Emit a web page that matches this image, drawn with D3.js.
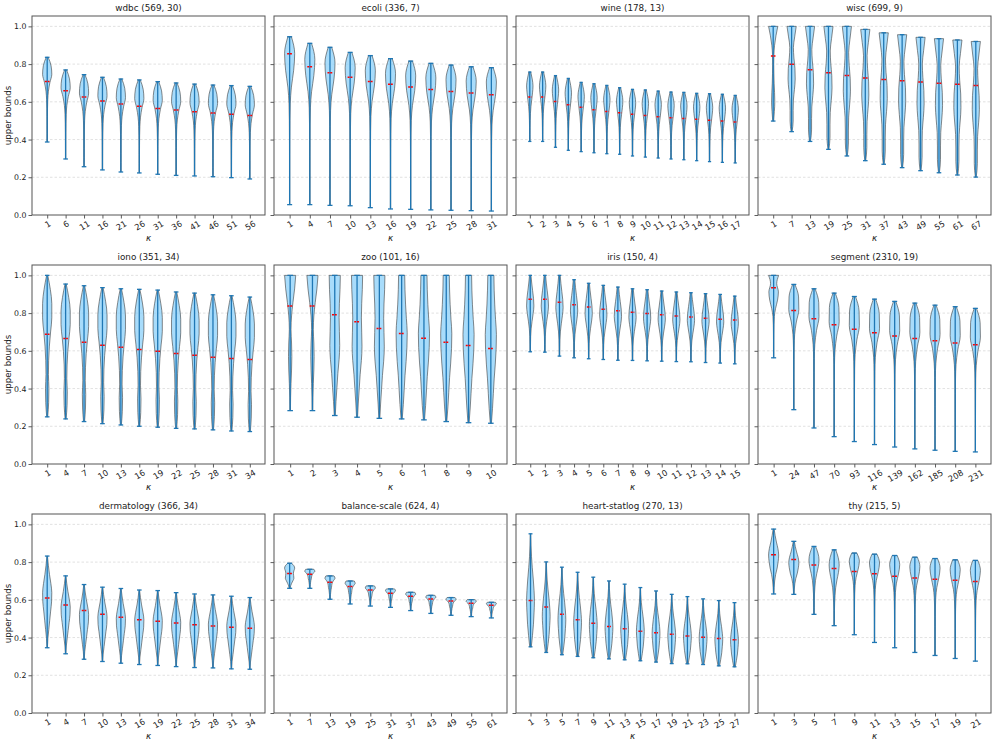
<!DOCTYPE html>
<html><head><meta charset="utf-8">
<script src="https://cdn.jsdelivr.net/npm/d3@7"></script>
<style>body{margin:0;background:#fff}svg{display:block;font-family:"DejaVu Sans",sans-serif}</style>
</head><body><svg id="c" width="997" height="746"></svg>
<script>
// ---------- data ----------
const titles = ["wdbc (569, 30)","ecoli (336, 7)","wine (178, 13)","wisc (699, 9)",
  "iono (351, 34)","zoo (101, 16)","iris (150, 4)","segment (2310, 19)",
  "dermatology (366, 34)","balance-scale (624, 4)","heart-statlog (270, 13)","thy (215, 5)"];

const kappas = [
  [1,6,11,16,21,26,31,36,41,46,51,56],
  [1,4,7,10,13,16,19,22,25,28,31],
  [1,2,3,4,5,6,7,8,9,10,11,12,13,14,15,16,17],
  [1,7,13,19,25,31,37,43,49,55,61,67],
  [1,4,7,10,13,16,19,22,25,28,31,34],
  [1,2,3,4,5,6,7,8,9,10],
  [1,2,3,4,5,6,7,8,9,10,11,12,13,14,15],
  [1,24,47,70,93,116,139,162,185,208,231],
  [1,4,7,10,13,16,19,22,25,28,31,34],
  [1,7,13,19,25,31,37,43,49,55,61],
  [1,3,5,7,9,11,13,15,17,19,21,23,25,27],
  [1,3,5,7,9,11,13,15,17,19,21]
];

const maxima = [
  [0.836,0.769,0.744,0.730,0.721,0.716,0.707,0.700,0.694,0.689,0.686,0.682],
  [0.945,0.910,0.889,0.862,0.845,0.829,0.816,0.804,0.795,0.786,0.781],
  [0.758,0.758,0.739,0.724,0.703,0.696,0.687,0.675,0.666,0.663,0.657,0.652,0.650,0.645,0.643,0.640,0.634],
  [1.0,1.0,1.0,1.0,1.0,0.984,0.966,0.956,0.942,0.935,0.928,0.920],
  [1.0,0.954,0.945,0.935,0.929,0.926,0.922,0.912,0.906,0.897,0.892,0.885],
  [1.0,1.0,1.0,1.0,1.0,1.0,1.0,1.0,1.0,1.0],
  [1.0,1.0,1.0,0.977,0.958,0.947,0.938,0.929,0.924,0.917,0.912,0.908,0.903,0.899,0.890],
  [1.0,0.952,0.929,0.906,0.888,0.874,0.862,0.853,0.842,0.834,0.825],
  [0.832,0.727,0.681,0.667,0.660,0.652,0.649,0.638,0.631,0.626,0.619,0.612],
  [0.794,0.762,0.727,0.700,0.674,0.658,0.640,0.624,0.612,0.601,0.587],
  [0.950,0.801,0.773,0.746,0.720,0.700,0.683,0.665,0.647,0.629,0.617,0.605,0.596,0.585],
  [0.975,0.910,0.883,0.865,0.848,0.842,0.835,0.826,0.819,0.812,0.809]
];

const minima = [
  [0.387,0.297,0.256,0.239,0.228,0.223,0.216,0.210,0.207,0.203,0.198,0.191],
  [0.055,0.055,0.051,0.049,0.039,0.032,0.030,0.027,0.025,0.023,0.021],
  [0.390,0.390,0.359,0.343,0.336,0.330,0.325,0.322,0.313,0.307,0.302,0.297,0.293,0.288,0.283,0.279,0.276],
  [0.498,0.442,0.390,0.348,0.313,0.288,0.269,0.251,0.235,0.224,0.212,0.201],
  [0.250,0.239,0.225,0.214,0.207,0.200,0.195,0.189,0.186,0.181,0.175,0.172],
  [0.283,0.283,0.257,0.248,0.242,0.239,0.234,0.225,0.219,0.216],
  [0.595,0.593,0.572,0.563,0.558,0.554,0.550,0.549,0.547,0.545,0.543,0.542,0.538,0.535,0.531],
  [0.563,0.288,0.191,0.145,0.119,0.103,0.090,0.080,0.073,0.067,0.064],
  [0.346,0.314,0.285,0.273,0.264,0.257,0.252,0.246,0.241,0.239,0.234,0.232],
  [0.661,0.661,0.603,0.578,0.567,0.560,0.543,0.528,0.518,0.511,0.504],
  [0.351,0.321,0.309,0.300,0.293,0.287,0.282,0.277,0.270,0.262,0.261,0.257,0.250,0.245],
  [0.631,0.629,0.523,0.463,0.415,0.374,0.346,0.321,0.305,0.289,0.275]
];

const means = [
  [0.708,0.659,0.625,0.604,0.588,0.576,0.565,0.557,0.548,0.541,0.534,0.528],
  [0.855,0.786,0.754,0.730,0.708,0.693,0.678,0.666,0.655,0.647,0.638],
  [0.625,0.625,0.602,0.585,0.571,0.558,0.549,0.542,0.534,0.528,0.521,0.516,0.512,0.507,0.502,0.498,0.493],
  [0.843,0.799,0.770,0.754,0.740,0.726,0.719,0.712,0.705,0.698,0.693,0.687],
  [0.688,0.665,0.646,0.630,0.619,0.607,0.598,0.586,0.577,0.566,0.559,0.554],
  [0.837,0.837,0.791,0.754,0.719,0.692,0.667,0.646,0.628,0.612],
  [0.874,0.874,0.858,0.844,0.832,0.821,0.812,0.804,0.798,0.791,0.784,0.779,0.773,0.768,0.763],
  [0.935,0.814,0.770,0.738,0.715,0.696,0.678,0.665,0.653,0.642,0.632],
  [0.610,0.573,0.543,0.523,0.507,0.495,0.486,0.477,0.468,0.461,0.454,0.449],
  [0.739,0.736,0.693,0.670,0.652,0.635,0.619,0.605,0.594,0.582,0.571],
  [0.596,0.562,0.523,0.495,0.476,0.459,0.447,0.434,0.426,0.417,0.408,0.401,0.395,0.388],
  [0.839,0.814,0.784,0.766,0.750,0.738,0.725,0.716,0.709,0.704,0.697]
];

// relative violin widths from the minimum (first) to the maximum (last) of each violin
const shapes = [
  [[0.03,0.035,0.04,0.05,0.07,0.12,0.25,0.55,0.95,0.8,0.2]],
  [[0.03,0.03,0.03,0.03,0.04,0.06,0.12,0.35,0.8,1.0,0.35]],
  [[0.05,0.06,0.08,0.12,0.2,0.35,0.6,0.85,1.0,0.75,0.3]],
  [[0.1,0.25,0.35,0.3,0.2,0.15,0.12,0.15,0.3,0.6,1.0],
   [0.08,0.3,0.3,0.35,0.55,0.7,0.65,0.45,0.35,0.6,0.9]],
  [[0.1,0.3,0.35,0.25,0.3,0.45,0.7,0.95,0.95,0.65,0.12]],
  [[0.05,0.08,0.15,0.25,0.3,0.25,0.15,0.25,0.5,0.8,1.0],
   [0.08,0.2,0.35,0.5,0.7,0.8,0.75,0.7,0.75,0.85,0.9],
   [0.1,0.3,0.45,0.6,0.8,0.95,1.0,0.85,0.7,0.6,0.55]],
  [[0.05,0.08,0.12,0.25,0.5,0.8,1.0,0.9,0.65,0.4,0.2]],
  [[0.03,0.03,0.03,0.04,0.06,0.12,0.35,0.7,0.85,0.55,0.9],
   [0.02,0.02,0.02,0.03,0.04,0.06,0.15,0.45,0.9,0.85,0.2]],
  [[0.05,0.15,0.35,0.55,0.75,0.95,1.0,0.8,0.5,0.25,0.06]],
  [[0.1,0.2,0.4,0.65,0.85,0.8,0.75,0.85,1.0,0.85,0.35],
   [0.06,0.08,0.1,0.15,0.2,0.3,0.35,0.45,0.7,1.0,0.8]],
  [[0.2,0.5,0.75,0.9,1.0,0.9,0.7,0.45,0.25,0.12,0.05]],
  [[0.05,0.1,0.2,0.4,0.7,0.9,1.0,0.85,0.55,0.3,0.1],
   [0.03,0.04,0.06,0.1,0.18,0.3,0.55,0.85,1.0,0.8,0.3],
   [0.03,0.03,0.03,0.04,0.05,0.08,0.15,0.35,0.75,1.0,0.5]]
];
const shapeIndex = [
  null,null,null,
  [0,1,1,1,1,1,1,1,1,1,1,1],
  null,
  [0,0,1,1,1,2,2,2,2,2],
  null,
  [0,1,1,1,1,1,1,1,1,1,1],
  null,
  [0,1,1,1,1,1,1,1,1,1,1],
  null,
  [0,0,1,1,2,2,2,2,2,2,2]
];
const yTicks = [0.0,0.2,0.4,0.6,0.8,1.0];

// ---------- layout ----------
const svg = d3.select("#c");
const colX = [32,274,516,758], rowY = [16,265,514], pw = 233, ph = 199;

titles.forEach((title,p)=>{
  const col = p%4, row = Math.floor(p/4);
  const x0 = colX[col], y0 = rowY[row];
  const n = kappas[p].length;
  const m = 0.05*(n-0.5);
  const x = d3.scaleLinear().domain([0.75-m, n+0.25+m]).range([x0, x0+pw]);
  const y = d3.scaleLinear().domain([0,1.055]).range([y0+ph, y0]);
  const g = svg.append("g");

  // grid
  g.selectAll("line.grid").data(yTicks.slice(1)).join("line")
    .attr("x1",x0).attr("x2",x0+pw).attr("y1",d=>y(d)).attr("y2",d=>y(d))
    .attr("stroke","#cccccc").attr("stroke-width",0.6).attr("stroke-dasharray","2.5,2");

  // y axis
  const ya = g.append("g").attr("transform",`translate(${x0},0)`)
    .call(d3.axisLeft(y).tickValues(yTicks).tickSize(3.5).tickPadding(2)
      .tickFormat(col===0 ? d3.format(".1f") : ()=>""));
  ya.select(".domain").remove();
  ya.selectAll("line").attr("stroke","#333").attr("stroke-width",0.8);
  ya.selectAll("text").attr("font-size",7.8).attr("fill","#222").attr("font-family","DejaVu Sans");

  // x axis
  const xa = g.append("g").attr("transform",`translate(0,${y0+ph})`)
    .call(d3.axisBottom(x).tickValues(d3.range(1,n+1)).tickSize(3.5)
      .tickFormat(i=>kappas[p][i-1]));
  xa.select(".domain").remove();
  xa.selectAll("line").attr("stroke","#333").attr("stroke-width",0.8);
  xa.selectAll("text").attr("font-size",8.3).attr("fill","#222").attr("font-family","DejaVu Sans")
    .attr("dy",null).attr("text-anchor","middle").attr("dominant-baseline","central")
    .each(function(){
      const w = this.getComputedTextLength();
      const bh = w*Math.sin(Math.PI/6) + 8.3*Math.cos(Math.PI/6);
      const cy = 4.2 + bh/2;
      d3.select(this).attr("y",0).attr("transform",`translate(0,${cy}) rotate(-30)`);
    });

  // violins
  const area = d3.area()
    .y(d=>y(d.v)).x0(d=>x(d.pos-0.25*d.w)).x1(d=>x(d.pos+0.25*d.w))
    .curve(d3.curveMonotoneY);
  kappas[p].forEach((k,j)=>{
    const pos = j+1;
    const prof = shapes[p][shapeIndex[p] ? shapeIndex[p][j] : 0];
    const mx = d3.max(prof);
    const lo = minima[p][j], hi = maxima[p][j];
    const pts = prof.map((w,i)=>({v: lo + (hi-lo)*i/(prof.length-1), w: w/mx, pos}));
    g.append("path").attr("d",area(pts))
      .attr("fill","#87cefa").attr("fill-opacity",0.72)
      .attr("stroke","#3c3c3c").attr("stroke-opacity",0.75).attr("stroke-width",0.8);
  });
  kappas[p].forEach((k,j)=>{
    const pos = j+1;
    const lo = minima[p][j], hi = maxima[p][j];
    g.append("line").attr("x1",x(pos)).attr("x2",x(pos)).attr("y1",y(lo)).attr("y2",y(hi))
      .attr("stroke","#1f77b4").attr("stroke-width",1.3);
    [lo,hi].forEach(v=>{
      g.append("line").attr("x1",x(pos-0.125)).attr("x2",x(pos+0.125)).attr("y1",y(v)).attr("y2",y(v))
        .attr("stroke","#1f77b4").attr("stroke-width",1.3);
    });
    g.append("line").attr("x1",x(pos-0.125)).attr("x2",x(pos+0.125))
      .attr("y1",y(means[p][j])).attr("y2",y(means[p][j]))
      .attr("stroke","#ff0000").attr("stroke-width",1.5).attr("stroke-dasharray","2,0.8");
  });

  // frame
  g.append("rect").attr("x",x0).attr("y",y0).attr("width",pw).attr("height",ph)
    .attr("fill","none").attr("stroke","#555").attr("stroke-width",1);

  // title & labels
  g.append("text").attr("x",x0+pw/2).attr("y",y0-5).attr("text-anchor","middle")
    .attr("font-size",8.8).attr("fill","#222").text(title);
  g.append("text").attr("x",x0+pw/2).attr("y",y0+ph+26).attr("text-anchor","middle")
    .attr("font-size",8.8).attr("font-style","italic").attr("fill","#222").text("κ");
  if(col===0){
    g.append("text").attr("transform",`translate(11,${y0+ph/2}) rotate(-90)`)
      .attr("text-anchor","middle").attr("font-size",8.6).attr("fill","#222").text("upper bounds");
  }
});
</script></body></html>
